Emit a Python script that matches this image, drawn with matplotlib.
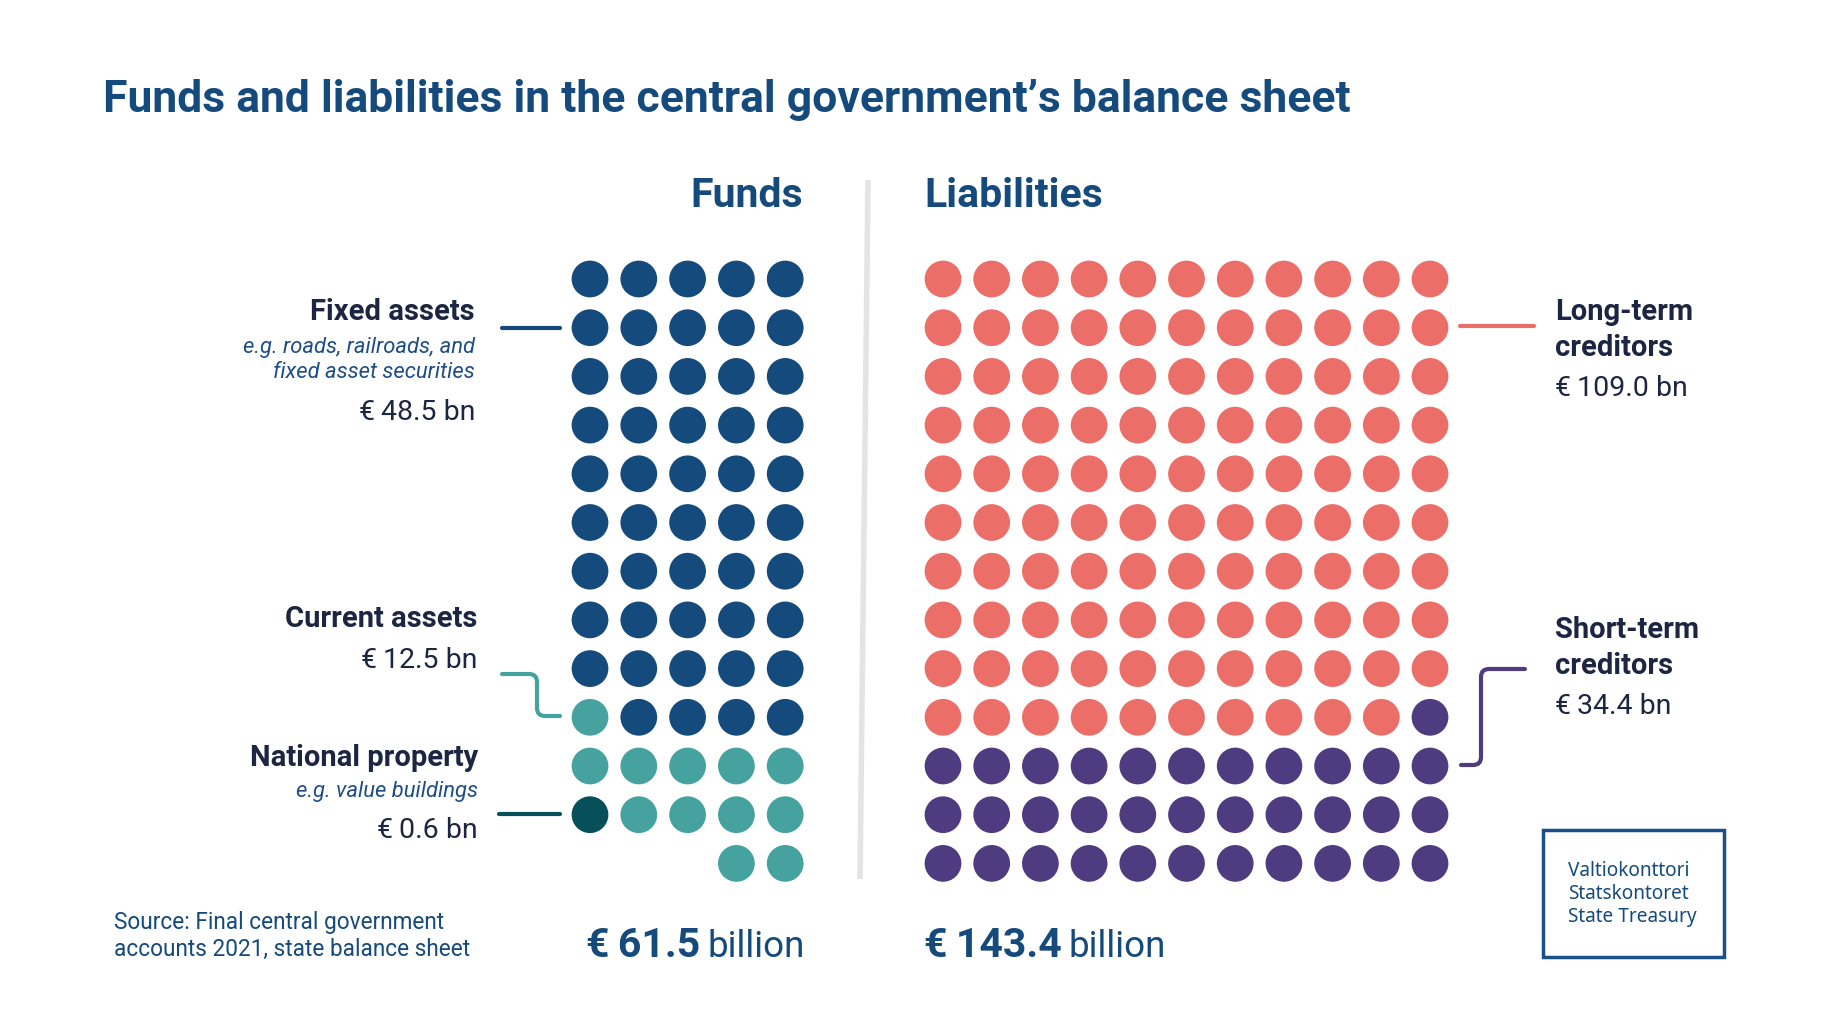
import matplotlib
matplotlib.use("Agg")
import matplotlib.pyplot as plt
from matplotlib.path import Path
import matplotlib.patches as mpatches

plt.rcParams['font.family'] = ['Roboto', 'DejaVu Sans']

# data
title = "Funds and liabilities in the central government\u2019s balance sheet"
fund_names = ["Fixed assets", "Current assets", "National property"]
fund_values = [48.5, 12.5, 0.6]
fund_dots = [49, 12, 1]
fund_notes = ["e.g. roads, railroads, and\nfixed asset securities", "", "e.g. value buildings"]
liab_names = ["Long-term\ncreditors", "Short-term\ncreditors"]
liab_values = [109.0, 34.4]
liab_dots = [109, 34]
fund_total = 61.5
liab_total = 143.4
source = "Source: Final central government\naccounts 2021, state balance sheet"
logo_lines = ["Valtiokonttori", "Statskontoret", "State Treasury"]

BLUE = "#154a7c"
TEAL = "#45a29e"
DTEAL = "#07505a"
RED = "#ec6e68"
PURPLE = "#4f3b7f"
NAVY = "#1c2541"
fund_colors = [BLUE, TEAL, DTEAL]
liab_colors = [RED, PURPLE]

fig = plt.figure(figsize=(18.21, 10.25), dpi=100)
ax = fig.add_axes([0, 0, 1, 1])
ax.set_xlim(0, 1821)
ax.set_ylim(1025, 0)
ax.axis('off')

row_y0, row_step = 279, 48.7
dot_s = 700

# funds grid: 5 columns, filled right-to-left per row
f_cols = 5
f_x0, f_step = 590, 48.8
seq = []
for c, n in zip(fund_colors[:2], fund_dots[:2]):
    seq += [c] * n
# the single national property dot sits at end of the second-to-last row
seq.insert(59, fund_colors[2])
fx, fy = [], []
for i in range(len(seq)):
    r, k = divmod(i, f_cols)
    fx.append(f_x0 + (f_cols - 1 - k) * f_step)
    fy.append(row_y0 + r * row_step)
ax.scatter(fx, fy, s=dot_s, c=seq, linewidths=0)

# liabilities grid: 11 columns, left-to-right
l_cols = 11
l_x0, l_step = 943, 48.7
lseq = []
for c, n in zip(liab_colors, liab_dots):
    lseq += [c] * n
lx, ly = [], []
for i in range(len(lseq)):
    r, k = divmod(i, l_cols)
    lx.append(l_x0 + k * l_step)
    ly.append(row_y0 + r * row_step)
ax.scatter(lx, ly, s=dot_s, c=lseq, linewidths=0)

# divider
ax.plot([868, 860], [180, 879], color="#e4e4e7", lw=4, solid_capstyle='butt')

# title and headers
ax.text(103, 100, title, fontsize=32, fontweight='bold', color=BLUE, va='center', ha='left')
ax.text(803, 196, "Funds", fontsize=29.5, fontweight='bold', color=BLUE, va='center', ha='right')
ax.text(924, 196, "Liabilities", fontsize=29.5, fontweight='bold', color=BLUE, va='center', ha='left')

LBL = 21
VAL = 20.5
NOTE = 15.8

def eur(v):
    return "\u20ac\u2009%.1f bn" % v

# fund labels
ax.text(475, 312, fund_names[0], fontsize=LBL, fontweight='bold', color=NAVY, ha='right', va='center')
ax.text(475, 360, fund_notes[0], fontsize=NOTE, style='italic', color="#1e4d86", ha='right', va='center',
        linespacing=1.3)
ax.text(475, 413, eur(fund_values[0]), fontsize=VAL, color=NAVY, ha='right', va='center')
ax.text(477, 619, fund_names[1], fontsize=LBL, fontweight='bold', color=NAVY, ha='right', va='center')
ax.text(477, 660, eur(fund_values[1]), fontsize=VAL, color=NAVY, ha='right', va='center')
ax.text(478, 758, fund_names[2], fontsize=LBL, fontweight='bold', color=NAVY, ha='right', va='center')
ax.text(478, 792, fund_notes[2], fontsize=NOTE, style='italic', color="#1e4d86", ha='right', va='center')
ax.text(478, 831, eur(fund_values[2]), fontsize=VAL, color=NAVY, ha='right', va='center')

def leader(pts, color, r=8):
    # polyline with rounded corners
    verts = [pts[0]]
    codes = [Path.MOVETO]
    for j in range(1, len(pts) - 1):
        (x0, y0), (x1, y1), (x2, y2) = pts[j - 1], pts[j], pts[j + 1]
        d0 = ((x1 - x0) ** 2 + (y1 - y0) ** 2) ** 0.5
        d1 = ((x2 - x1) ** 2 + (y2 - y1) ** 2) ** 0.5
        a = (x1 - (x1 - x0) * r / d0, y1 - (y1 - y0) * r / d0)
        b = (x1 + (x2 - x1) * r / d1, y1 + (y2 - y1) * r / d1)
        verts += [a, (x1, y1), b]
        codes += [Path.LINETO, Path.CURVE3, Path.CURVE3]
    verts.append(pts[-1])
    codes.append(Path.LINETO)
    ax.add_patch(mpatches.PathPatch(Path(verts, codes), fill=False, edgecolor=color,
                                    lw=3, capstyle='round'))

leader([(502, 328), (560, 328)], BLUE)
leader([(502, 674), (537, 674), (537, 716), (560, 716)], TEAL)
leader([(499, 814), (560, 814)], DTEAL)
leader([(1460, 326), (1534, 326)], RED)
leader([(1525, 669), (1481, 669), (1481, 765), (1461, 765)], PURPLE)

# liability labels
ax.text(1555, 330, liab_names[0], fontsize=LBL, fontweight='bold', color=NAVY, ha='left', va='center',
        linespacing=1.4)
ax.text(1555, 389, eur(liab_values[0]), fontsize=VAL, color=NAVY, ha='left', va='center')
ax.text(1555, 648, liab_names[1], fontsize=LBL, fontweight='bold', color=NAVY, ha='left', va='center',
        linespacing=1.38)
ax.text(1555, 706, eur(liab_values[1]), fontsize=VAL, color=NAVY, ha='left', va='center')

# totals
t1 = ax.text(805, 957, "billion", fontsize=26.5, color=BLUE, ha='right', va='baseline')
ax.annotate("\u20ac\u2009%.1f" % fund_total, xy=(0, 0), xycoords=t1, xytext=(-7, 0),
            textcoords='offset pixels', fontsize=29.5, fontweight='bold', color=BLUE, ha='right', va='bottom')
t2 = ax.text(924, 957, "\u20ac\u2009%.1f" % liab_total, fontsize=29.5, fontweight='bold', color=BLUE,
             ha='left', va='baseline')
ax.annotate("billion", xy=(1, 0), xycoords=t2, xytext=(7, 0),
            textcoords='offset pixels', fontsize=26.5, color=BLUE, ha='left', va='bottom')

# source
ax.text(114, 936, source, fontsize=16.3, color=BLUE, ha='left', va='center', linespacing=1.25)

# logo box
ax.add_patch(mpatches.Rectangle((1543, 830), 181, 127, fill=False, edgecolor="#1a4f8a", lw=2.5))
for j, s in enumerate(logo_lines):
    ax.text(1568, 871 + j * 23, s, fontsize=13.7, color=BLUE, ha='left', va='center',
            family=['Noto Sans', 'DejaVu Sans'])

fig.savefig("out.png", dpi=100, facecolor='white')
